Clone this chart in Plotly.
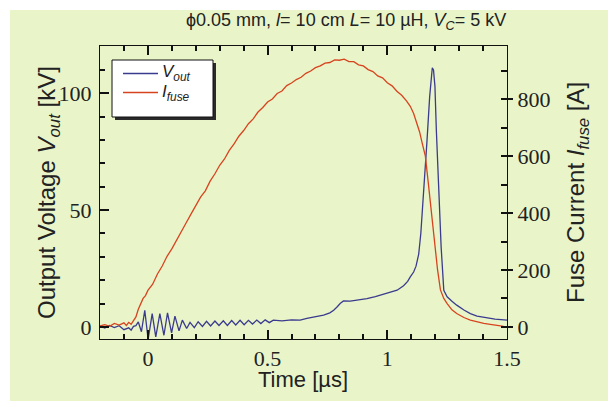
import plotly.graph_objects as go

# ---- data ----
t_v = [-0.20, -0.18, -0.16, -0.14, -0.12, -0.10, -0.08, -0.07, -0.06, -0.05,
       -0.04, -0.027, -0.013, 0.001, 0.018, 0.033, 0.05, 0.067, 0.082, 0.099,
       0.113, 0.13, 0.144, 0.162, 0.176, 0.194, 0.21, 0.228, 0.245, 0.262,
       0.28, 0.297, 0.315, 0.332, 0.35, 0.367, 0.385, 0.402, 0.42, 0.437,
       0.455, 0.472, 0.49, 0.507, 0.524, 0.56, 0.60, 0.636, 0.664, 0.70,
       0.734, 0.76, 0.776, 0.79, 0.803, 0.817, 0.845, 0.88, 0.915, 0.95,
       0.985, 1.013, 1.041, 1.068, 1.085, 1.096, 1.11, 1.12, 1.131, 1.14,
       1.145, 1.155, 1.166, 1.177, 1.183, 1.188, 1.193, 1.199, 1.205, 1.215,
       1.225, 1.236, 1.25, 1.27, 1.29, 1.32, 1.347, 1.375, 1.403, 1.45, 1.50]
v_out = [0.3, -0.5, 0.6, -0.3, 0.5, -1.2, -0.4, -1.4, 0.2, 0.5,
         2.1, -2.1, 7.1, -5.4, 5.7, -4.3, 5.7, -3.6, 6.0, -2.6,
         4.6, -1.7, 2.9, -0.7, 1.9, -0.3, 2.2, 0.2, 2.4, 0.4,
         2.5, 0.6, 2.6, 0.6, 2.7, 0.8, 2.8, 0.9, 2.8, 1.2,
         2.9, 1.4, 3.0, 1.8, 2.9, 2.6, 3.0, 2.9, 3.6, 4.2,
         5.0, 6.0, 7.1, 8.5, 10.0, 11.1, 11.0, 11.6, 12.1, 13.0,
         14.0, 15.0, 15.7, 17.6, 19.5, 21.4, 23.5, 26.0, 31.0, 40.0,
         47.0, 63.0, 80.0, 98.6, 107.0, 111.0, 110.0, 103.0, 84.0, 58.6,
         34.0, 15.7, 12.9, 11.0, 9.3, 7.2, 5.7, 4.6, 4.0, 3.3, 2.9]

t_i = [-0.20, -0.18, -0.16, -0.14, -0.12, -0.10, -0.09, -0.08, -0.07, -0.06,
       -0.05, -0.04, -0.03, -0.02, -0.01, 0.00, 0.02, 0.04, 0.06, 0.08,
       0.10, 0.12, 0.14, 0.16, 0.18, 0.20, 0.22, 0.24, 0.26, 0.28,
       0.30, 0.32, 0.34, 0.36, 0.38, 0.40, 0.42, 0.44, 0.46, 0.48,
       0.50, 0.52, 0.54, 0.56, 0.58, 0.60, 0.62, 0.64, 0.66, 0.68,
       0.70, 0.72, 0.74, 0.76, 0.78, 0.80, 0.82, 0.84, 0.86, 0.88,
       0.90, 0.92, 0.94, 0.96, 0.98, 1.00, 1.02, 1.04, 1.06, 1.08,
       1.096, 1.11, 1.124, 1.135, 1.145, 1.159, 1.172, 1.184, 1.197, 1.21,
       1.222, 1.236, 1.25, 1.27, 1.29, 1.32, 1.347, 1.375, 1.403, 1.43,
       1.459, 1.48, 1.50]
i_fuse = [3, 8, 2, 12, 6, 14, 5, 16, 9, 20,
          35, 62, 80, 100, 110, 128, 150, 186, 214, 248,
          274, 306, 334, 366, 396, 425, 456, 478, 512, 538,
          568, 590, 620, 643, 670, 690, 714, 731, 755, 771,
          790, 801, 820, 829, 848, 857, 869, 877, 891, 899,
          911, 917, 927, 929, 938, 937, 941, 932, 932, 921,
          917, 904, 897, 882, 875, 858, 847, 828, 814, 794,
          775, 750, 715, 685, 648, 600, 500, 400, 300, 200,
          130, 100, 82, 60, 47, 33, 24, 17, 12, 9,
          6, 3, -2]

x_ticks = [0, 0.5, 1, 1.5]
x_ticklabels = ["0", "0.5", "1", "1.5"]
v_ticks = [0, 50, 100]
i_ticks = [0, 200, 400, 600, 800]

series_names = ["<i>V</i><sub><i>out</i></sub>", "<i>I</i><sub><i>fuse</i></sub>"]
title_text = ("\u03d50.05 mm, <i>l</i>= 10 cm <i>L</i>= 10 \u00b5H, "
              "<i>V</i><sub><i>C</i></sub>= 5 kV")

# ---- styling ----
BG = "#e9f5c9"
BLUE = "#3b3b8e"
RED = "#d8431f"
SANS = "Liberation Sans, Arial, sans-serif"
SERIF = "Liberation Serif, Times New Roman, serif"
INK = "#222222"
AX = "#111111"

W, H = 608, 401
ML, MR, MT, MB = 100, 101, 46, 62
PW, PH = W - ML - MR, H - MT - MB


def px_x(p):
    return (p - ML) / PW


def px_y(p):
    return (H - MB - p) / PH


x_range = [-0.2, 1.5]
v_range = [-5.2, 120.3]
i_range = [-42.6, 987]

fig = go.Figure()
fig.add_trace(go.Scatter(x=t_v, y=v_out, mode="lines", yaxis="y",
                         name=series_names[0], showlegend=False,
                         line=dict(color=BLUE, width=1.3)))
fig.add_trace(go.Scatter(x=t_i, y=i_fuse, mode="lines", yaxis="y2",
                         name=series_names[1], showlegend=False,
                         line=dict(color=RED, width=1.3)))
# empty helper traces so that the tick-only overlay axes are drawn
for xa, ya in [("x", "y3"), ("x2", "y"), ("x3", "y"), ("x", "y4"), ("x", "y5")]:
    fig.add_trace(go.Scatter(x=[], y=[], xaxis=xa, yaxis=ya,
                             showlegend=False, hoverinfo="skip"))

tick_common = dict(showgrid=False, zeroline=False, showticklabels=False,
                   ticks="inside", tickwidth=1.5, tickcolor=AX)

fig.update_layout(
    width=W, height=H, autosize=False,
    margin=dict(l=ML, r=MR, t=MT, b=MB, pad=0),
    paper_bgcolor=BG,
    plot_bgcolor="rgba(0,0,0,0)",
    font=dict(family=SANS, color=INK),
    showlegend=False,
    xaxis=dict(
        range=x_range, showgrid=False, zeroline=False,
        showline=True, linecolor=AX, linewidth=1.4, mirror=True,
        tickmode="array", tickvals=x_ticks, ticktext=x_ticklabels,
        ticks="", ticklabelstandoff=-1,
        tickfont=dict(family=SERIF, size=22, color=INK),
    ),
    xaxis2=dict(range=x_range, overlaying="x", anchor="y", side="bottom",
                showline=True, linecolor=AX, linewidth=1.4, mirror="ticks",
                tickmode="array", tickvals=x_ticks, ticklen=9, **tick_common),
    xaxis3=dict(range=x_range, overlaying="x", anchor="y", side="bottom",
                showline=True, linecolor=AX, linewidth=1.4, mirror="ticks",
                tickmode="linear", tick0=0, dtick=0.1, ticklen=5,
                **tick_common),
    yaxis=dict(
        range=v_range, showgrid=False, zeroline=False,
        showline=True, linecolor=AX, linewidth=1.4, mirror=False,
        tickmode="array", tickvals=v_ticks, ticks="",
        ticklabelstandoff=3,
        tickfont=dict(family=SERIF, size=22, color=INK),
    ),
    yaxis4=dict(range=v_range, overlaying="y", anchor="x", side="left",
                showline=False, tickmode="array", tickvals=v_ticks,
                ticklen=9, **tick_common),
    yaxis5=dict(range=v_range, overlaying="y", anchor="x", side="left",
                showline=False, tickmode="linear", tick0=0, dtick=10,
                ticklen=5, **tick_common),
    yaxis2=dict(
        range=i_range, overlaying="y", side="right", showgrid=False,
        zeroline=False, showline=True, linecolor=AX, linewidth=1.4,
        tickmode="array", tickvals=i_ticks,
        ticks="outside", ticklen=5, tickwidth=1.5, tickcolor=AX,
        tickfont=dict(family=SERIF, size=22, color=INK),
    ),
    yaxis3=dict(range=i_range, overlaying="y", side="right",
                showline=False, tickmode="linear", tick0=0, dtick=100,
                ticklen=6, **tick_common),
)

# white unscanned strips along the top and left edges
fig.add_shape(type="rect", xref="paper", yref="paper", layer="below",
              x0=px_x(-2), x1=px_x(W + 2), y0=px_y(10), y1=px_y(-2),
              fillcolor="white", line=dict(width=0))
fig.add_shape(type="rect", xref="paper", yref="paper", layer="below",
              x0=px_x(-2), x1=px_x(10), y0=px_y(H + 2), y1=px_y(-2),
              fillcolor="white", line=dict(width=0))

# legend box with drop shadow
fig.add_shape(type="rect", xref="paper", yref="paper", layer="above",
              x0=px_x(115), x1=px_x(216), y0=px_y(120), y1=px_y(63),
              fillcolor="#2a2a2a", line=dict(width=0))
fig.add_shape(type="rect", xref="paper", yref="paper", layer="above",
              x0=px_x(112), x1=px_x(213), y0=px_y(117), y1=px_y(60),
              fillcolor="white", line=dict(color=AX, width=1))
for k, (col, ypx) in enumerate([(BLUE, 73.5), (RED, 92.5)]):
    fig.add_shape(type="line", xref="paper", yref="paper", layer="above",
                  x0=px_x(123), x1=px_x(158), y0=px_y(ypx), y1=px_y(ypx),
                  line=dict(color=col, width=1.3))
    fig.add_annotation(text=series_names[k], xref="paper", yref="paper",
                       x=px_x(160), y=px_y(ypx), xanchor="left",
                       yanchor="middle", showarrow=False,
                       font=dict(family=SANS, size=17, color=INK))

fig.add_annotation(text=title_text, xref="paper", yref="paper",
                   x=px_x(508), y=px_y(21), xanchor="right", yanchor="middle",
                   showarrow=False, font=dict(family=SANS, size=18, color=INK))
fig.add_annotation(text="Output Voltage <i>V</i><sub><i>out</i></sub> [kV]",
                   xref="paper", yref="paper", x=px_x(48), y=px_y(193),
                   xanchor="center", yanchor="middle", textangle=-90,
                   showarrow=False, font=dict(family=SANS, size=24, color=INK))
fig.add_annotation(text="Fuse Current <i>I</i><sub><i>fuse</i></sub> [A]",
                   xref="paper", yref="paper", x=px_x(577), y=px_y(193),
                   xanchor="center", yanchor="middle", textangle=-90,
                   showarrow=False, font=dict(family=SANS, size=24, color=INK))
fig.add_annotation(text="Time [\u00b5s]", xref="paper", yref="paper",
                   x=px_x(303), y=px_y(379), xanchor="center",
                   yanchor="middle", showarrow=False,
                   font=dict(family=SANS, size=22, color=INK))

fig.write_html("out.html",
               config={"displayModeBar": False},
               post_script="document.body.style.margin='0';"
                           "document.body.style.overflow='hidden';")
